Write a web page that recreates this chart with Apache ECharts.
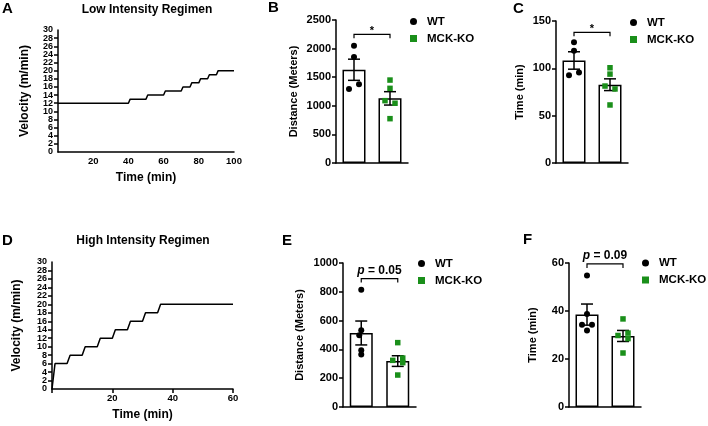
<!DOCTYPE html>
<html>
<head>
<meta charset="utf-8">
<script src="https://cdn.jsdelivr.net/npm/echarts@6/dist/echarts.min.js"></script>
<style>
  html, body { margin: 0; padding: 0; background: #fff; }
  #chart { width: 708px; height: 426px; }
</style>
</head>
<body>
<div id="chart"></div>
<script>
  // speed protocols (step points)
  const lowTime = [0, 40, 41, 50, 51, 60, 61, 70, 71, 75, 76, 80, 81, 85, 86, 90, 91, 100]
  const lowVel = [12, 12, 13, 13, 14, 14, 15, 15, 16, 16, 17, 17, 18, 18, 19, 19, 20, 20]
  const highTime = [0, 1, 5, 6, 10, 11, 15, 16, 20, 21, 25, 26, 30, 31, 35, 36, 60]
  const highVel = [0, 6, 6, 8, 8, 10, 10, 12, 12, 14, 14, 16, 16, 18, 18, 20, 20]

  const groups = ['WT', 'MCK-KO']

  // B - distance, low intensity
  const distLowMean = [1630, 1130]
  const distLowSem = [185, 117]
  const distLowWT = [2050, 1855, 1295, 1375]
  const distLowKO = [1450, 1305, 1090, 1045, 775]
  // C - time, low intensity
  const timeLowMean = [108.3, 82.7]
  const timeLowSem = [9.2, 6.2]
  const timeLowWT = [127.6, 118.5, 92.6, 95.7]
  const timeLowKO = [100.6, 93.9, 81.3, 78.2, 61.3]
  // E - distance, high intensity
  const distHighMean = [514, 319]
  const distHighSem = [83, 37]
  const distHighWT = [815, 533, 498, 394, 364]
  const distHighKO = [447, 324, 340, 308, 222]
  // F - time, high intensity
  const timeHighMean = [38.5, 29.6]
  const timeHighSem = [4.4, 2.3]
  const timeHighWT = [54.8, 38.8, 34.3, 34.3, 31.9]
  const timeHighKO = [36.7, 29.8, 30.8, 28.5, 22.5]

  const FONT = "'Liberation Sans', Arial, sans-serif"
  const GREEN = '#1a8f1a'
  const black = {color: '#000', width: 1.5}

  const chart = echarts.init(document.getElementById('chart'))

  const grids = [
    {left: 58, top: 30, width: 176, height: 122},   // A
    {left: 336, top: 20, width: 72, height: 143},   // B
    {left: 556, top: 21, width: 72, height: 142},   // C
    {left: 52, top: 262, width: 181, height: 127},  // D
    {left: 343, top: 263, width: 73, height: 144},  // E
    {left: 569, top: 263, width: 72, height: 144}   // F
  ].map(g => Object.assign({outerBoundsMode: 'none', containLabel: false}, g))

  const smallLabel = {fontSize: 9, fontWeight: 'bold', color: '#000', fontFamily: FONT, margin: 5}

  function lineXAxis(gi, max, showTick) {
    return {
      gridIndex: gi, type: 'value', min: 0, max: max, interval: 20,
      axisLine: {show: true, lineStyle: black},
      axisTick: {show: showTick, length: 4, lineStyle: black},
      splitLine: {show: false},
      axisLabel: {
        fontSize: 9.5, fontWeight: 'bold', color: '#000', fontFamily: FONT, margin: 4,
        hideOverlap: false, showMaxLabel: true,
        formatter: v => v === 0 ? '' : String(v)
      },
      name: 'Time (min)', nameLocation: 'middle', nameGap: 20,
      nameTextStyle: {fontSize: 12, fontWeight: 'bold', color: '#000', fontFamily: FONT}
    }
  }
  // velocity axis: inner labels 2..28 here, the 0 and 30 ends come from velEnds()
  function lineYAxis(gi, gap) {
    return {
      gridIndex: gi, type: 'value', min: 0, max: 30, interval: 2,
      axisLine: {show: true, lineStyle: black},
      axisTick: {show: true, length: 4, lineStyle: black},
      splitLine: {show: false},
      axisLabel: Object.assign({
        hideOverlap: false, showMinLabel: false, showMaxLabel: false,
        formatter: v => String(v)
      }, smallLabel),
      name: 'Velocity (m/min)', nameLocation: 'middle', nameGap: gap,
      nameTextStyle: {fontSize: 12, fontWeight: 'bold', color: '#000', fontFamily: FONT}
    }
  }
  function velEnds(gi) {
    return {
      gridIndex: gi, type: 'value', min: 0, max: 30, interval: 30, position: 'left', offset: 0,
      axisLine: {show: false}, axisTick: {show: false}, splitLine: {show: false},
      axisLabel: Object.assign({
        hideOverlap: false, showMinLabel: true, showMaxLabel: true,
        formatter: v => String(v)
      }, smallLabel)
    }
  }
  function barXAxis(gi) {
    return {
      gridIndex: gi, type: 'category', data: groups,
      axisLine: {show: true, lineStyle: black},
      axisTick: {show: false}, axisLabel: {show: false}
    }
  }
  function barYAxis(gi, max, interval, name, gap) {
    return {
      gridIndex: gi, type: 'value', min: 0, max: max, interval: interval,
      axisLine: {show: true, lineStyle: black},
      axisTick: {show: true, length: 4, lineStyle: black},
      splitLine: {show: false},
      axisLabel: {
        fontSize: 11, fontWeight: 'bold', color: '#000', fontFamily: FONT, margin: 5,
        hideOverlap: false, showMinLabel: true, showMaxLabel: true,
        formatter: v => String(v)
      },
      name: name, nameLocation: 'middle', nameGap: gap,
      nameTextStyle: {fontSize: 11, fontWeight: 'bold', color: '#000', fontFamily: FONT}
    }
  }

  function errorBars(gi, means, sems) {
    return {
      type: 'custom', xAxisIndex: gi, yAxisIndex: gi, z: 4,
      data: means.map((m, i) => [i, m, sems[i]]),
      renderItem(params, api) {
        const x = api.value(0), m = api.value(1), s = api.value(2)
        const hi = api.coord([x, m + s]), lo = api.coord([x, m - s])
        const w = 6
        const st = {stroke: '#000', lineWidth: 1.5}
        return {
          type: 'group', children: [
            {type: 'line', shape: {x1: hi[0], y1: hi[1], x2: lo[0], y2: lo[1]}, style: st},
            {type: 'line', shape: {x1: hi[0] - w, y1: hi[1], x2: hi[0] + w, y2: hi[1]}, style: st},
            {type: 'line', shape: {x1: lo[0] - w, y1: lo[1], x2: lo[0] + w, y2: lo[1]}, style: st}
          ]
        }
      }
    }
  }

  function bracket(gi, yVal, label) {
    const star = label === '*'
    return {
      type: 'custom', xAxisIndex: gi, yAxisIndex: gi, z: 5,
      data: [[0, yVal]],
      renderItem(params, api) {
        const a = api.coord([0, api.value(1)]), b = api.coord([1, api.value(1)])
        return {
          type: 'group', children: [
            {type: 'polyline', shape: {points: [[a[0], a[1] + 4], [a[0], a[1]], [b[0], a[1]], [b[0], a[1] + 4]]},
              style: {stroke: '#000', lineWidth: 1.2, fill: null}},
            {type: 'text', x: (a[0] + b[0]) / 2, y: star ? a[1] + 2 : a[1] - 2,
              style: {
                text: label, align: 'center', verticalAlign: 'bottom',
                font: 'bold ' + (star ? 11 : 12) + 'px ' + FONT, fill: '#000',
                rich: {i: {fontStyle: 'italic', fontWeight: 'bold', fontSize: 12, fontFamily: FONT}}
              }}
          ]
        }
      }
    }
  }

  function points(gi, name, idx, vals, jit, symbol, color, size) {
    return {
      name: name, type: 'scatter', xAxisIndex: gi, yAxisIndex: gi, z: 6,
      symbol: symbol, symbolSize: size, itemStyle: {color: color, opacity: 1},
      data: vals.map((v, k) => ({value: [idx, v], symbolOffset: [jit[k], 0]}))
    }
  }

  function barPanel(gi, means, sems, wt, ko, wtJit, koJit, bracketY, label) {
    return [
      {
        type: 'bar', xAxisIndex: gi, yAxisIndex: gi, barWidth: 23, z: 2,
        itemStyle: {color: '#fff', borderColor: '#000', borderWidth: 1.5},
        data: means
      },
      errorBars(gi, means, sems),
      bracket(gi, bracketY, label),
      points(gi, 'WT', 0, wt, wtJit, 'circle', '#000', 6),
      points(gi, 'MCK-KO', 1, ko, koJit, 'rect', GREEN, 5.5)
    ]
  }

  function legendAt(left, top) {
    return {
      data: [{name: 'WT', icon: 'circle'}, {name: 'MCK-KO', icon: 'rect'}],
      orient: 'vertical', left: left, top: top, padding: 0,
      itemWidth: 7, itemHeight: 7, itemGap: 5, selectedMode: false,
      itemStyle: {opacity: 1},
      textStyle: {fontSize: 11.5, fontWeight: 'bold', color: '#000', fontFamily: FONT, padding: [0, 0, 0, 5]}
    }
  }

  function txt(x, y, text, size, align) {
    return {
      type: 'text', x: x, y: y,
      style: {text: text, font: 'bold ' + size + 'px ' + FONT, fill: '#000',
        align: align || 'left', verticalAlign: 'middle'}
    }
  }

  const lineStyle = {color: '#000', width: 1.5}

  chart.setOption({
    animation: false,
    grid: grids,
    xAxis: [
      lineXAxis(0, 100, false), barXAxis(1), barXAxis(2),
      lineXAxis(3, 60, true), barXAxis(4), barXAxis(5)
    ],
    yAxis: [
      lineYAxis(0, 27), barYAxis(1, 2500, 500, 'Distance (Meters)', 37),
      barYAxis(2, 150, 50, 'Time (min)', 31),
      lineYAxis(3, 29), barYAxis(4, 1000, 200, 'Distance (Meters)', 38),
      barYAxis(5, 60, 20, 'Time (min)', 31),
      velEnds(0), velEnds(3)
    ],
    legend: [legendAt(410, 15.5), legendAt(630, 16.5), legendAt(418, 257.5), legendAt(642, 257)],
    graphic: [
      txt(2, 9, 'A', 15), txt(268, 8, 'B', 15), txt(513, 9, 'C', 15),
      txt(2, 241, 'D', 15), txt(282, 241, 'E', 15), txt(523, 240, 'F', 15),
      txt(147, 10, 'Low Intensity Regimen', 12, 'center'),
      txt(143, 241, 'High Intensity Regimen', 12, 'center')
    ],
    series: [
      {
        type: 'line', xAxisIndex: 0, yAxisIndex: 0, showSymbol: false, symbol: 'none',
        lineStyle: lineStyle, data: lowTime.map((t, i) => [t, lowVel[i]])
      },
      {
        type: 'line', xAxisIndex: 3, yAxisIndex: 3, showSymbol: false, symbol: 'none',
        lineStyle: lineStyle, data: highTime.map((t, i) => [t, highVel[i]])
      },
      ...barPanel(1, distLowMean, distLowSem, distLowWT, distLowKO,
        [0, 0, -5, 5], [0, 0, -5, 5, 0], 2250, '*'),
      ...barPanel(2, timeLowMean, timeLowSem, timeLowWT, timeLowKO,
        [0, 0, -5, 5], [0, 0, -5, 5, 0], 138, '*'),
      ...barPanel(4, distHighMean, distHighSem, distHighWT, distHighKO,
        [0, 0, -2, 0, 0], [0, -5, 5, 5, 0], 892, '{i|p} = 0.05'),
      ...barPanel(5, timeHighMean, timeHighSem, timeHighWT, timeHighKO,
        [0, 0, -5, 5, 0], [0, -5, 5, 5, 0], 59.6, '{i|p} = 0.09')
    ]
  })
</script>
</body>
</html>
